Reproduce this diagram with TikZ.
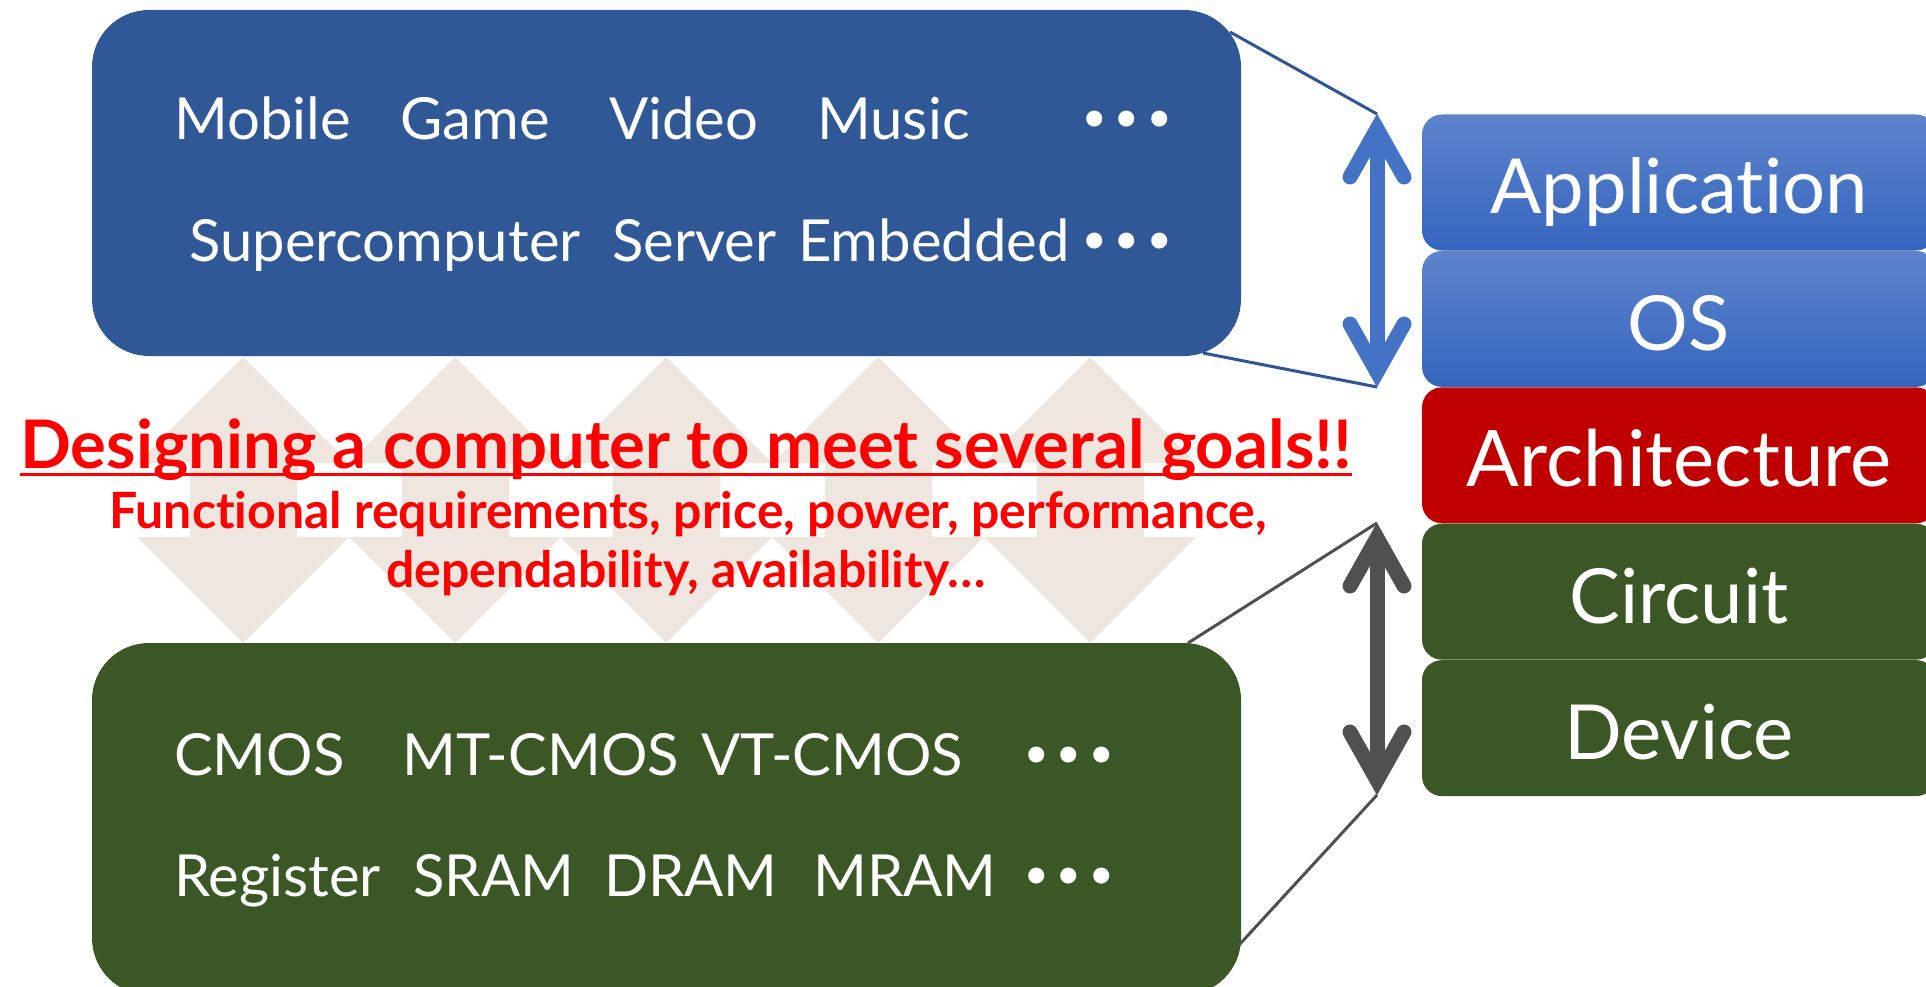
\documentclass[tikz,border=0pt]{standalone}
\usepackage{fontspec}
\setmainfont{Lato}[Ligatures=NoCommon]
\newfontfamily\dotfont{DejaVu Sans}
\usepackage{tikz}
\usetikzlibrary{positioning, calc}
\definecolor{appblue}{RGB}{48,88,150}
\definecolor{techgreen}{RGB}{59,87,37}
\definecolor{stacktop}{RGB}{94,132,204}
\definecolor{stackbot}{RGB}{52,101,190}
\definecolor{archred}{RGB}{192,0,0}
\definecolor{beige}{RGB}{238,230,223}
\definecolor{linkblue}{RGB}{47,85,151}
\definecolor{linkgray}{RGB}{80,80,80}
\definecolor{arrblue}{RGB}{68,114,196}
\definecolor{goalred}{RGB}{255,0,0}
\tikzstyle{bigbox} = [rounded corners=57pt, minimum width=1149pt, inner sep=0pt]
\tikzstyle{layer} = [rounded corners=20pt, minimum width=514pt, minimum height=136pt, inner sep=0pt, text=white, font=\fontsize{76}{80}\selectfont, text height=63pt, text depth=0pt]
\tikzstyle{word} = [text=white, inner sep=0pt, anchor=base west, font=\fontsize{58}{60}\selectfont]
\tikzstyle{dots} = [text=white, inner sep=0pt, anchor=base west, font=\dotfont\fontsize{55}{60}\selectfont]
\tikzstyle{goal} = [text=goalred, inner sep=0pt, anchor=base]
\tikzstyle{link} = [line width=3pt]
\tikzstyle{chevron} = [line width=15pt, line join=miter, line cap=round]

\begin{document}
\begin{tikzpicture}[x=1pt, y=-1pt]
\useasboundingbox (0,0) rectangle (1926,987);
\foreach \c in {243,455,666,878,1090}
  \fill[beige] (\c,357) -- (\c+106,463) -- (\c+54,463) -- (\c+54,537) -- (\c+106,537) -- (\c,643)
    -- (\c-106,537) -- (\c-53,537) -- (\c-53,463) -- (\c-106,463) -- cycle;
\node[bigbox, fill=appblue, minimum height=346pt] (apps) at (666.5,183) {};
\node[bigbox, fill=techgreen, minimum height=352pt] (tech) at (666.5,819) {};

\node[layer, top color=stacktop, bottom color=stackbot] (app) at (1679,182.5) {Application};
\node[layer, top color=stacktop, bottom color=stackbot, below=0pt of app] (os) {OS};
\node[layer, fill=archred, below=0pt of os, font=\fontsize{78}{80}\selectfont] (arch) {Architecture};
\node[layer, fill=techgreen, below=0pt of arch] (circ) {Circuit};
\node[layer, fill=techgreen, below=0pt of circ] (dev) {Device};

\foreach \w/\x [count=\i] in {Mobile/174, Game/400, Video/609, Music/817}
  \node[word] (use\i) at (\x,140) {\w};
\node[dots] (usedots) at (1078,140) {•••};
\foreach \w/\x [count=\i] in {Supercomputer/189, Server/612, Embedded/798}
  \node[word] (sys\i) at (\x,261) {\w};
\node[dots] (sysdots) at (1078,261) {•••};
\foreach \w/\x [count=\i] in {CMOS/174, MT-CMOS/402, VT-CMOS/701}
  \node[word] (trans\i) at (\x,775) {\w};
\node[dots] (transdots) at (1020,775) {•••};
\foreach \w/\x [count=\i] in {Register/174, SRAM/413, DRAM/604, MRAM/813}
  \node[word] (mem\i) at (\x,896) {\w};
\node[dots] (memdots) at (1020,896) {•••};

\node[goal, font=\bfseries\fontsize{67}{67}\selectfont] (goal) at (686,468) {Designing a computer to meet several goals!!};
\draw[goalred, line width=3pt] ($(goal.base west)+(0,6)$) -- ($(goal.base east)+(0,6)$);
\node[goal, font=\bfseries\fontsize{50}{50}\selectfont] (req1) at (688,528) {Functional requirements, price, power, performance,};
\node[goal, font=\bfseries\fontsize{50}{50}\selectfont] (req2) at (686,587) {dependability, availability…};

\coordinate (blueup) at (1377,114);
\coordinate (bluedn) at (1377,387);
\coordinate (grayup) at (1377,523);
\coordinate (graydn) at (1377,795);
\coordinate (appsne) at (1230,32);
\coordinate (appsse) at (1203,353);
\coordinate (techne) at (1188,643);
\coordinate (techse) at (1239,945);
\draw[link, linkblue] (appsne) -- (blueup);
\draw[link, linkblue] (appsse) -- (bluedn);
\draw[link, linkgray] (techne) -- (grayup);
\draw[link, linkgray] (techse) -- (graydn);

\draw[arrblue, line width=15pt] ($(blueup)+(0,15)$) -- ($(bluedn)+(0,-15)$);
\draw[chevron, arrblue] (blueup) ++(-27,63) -- ++(27,-48) -- ++(27,48);
\draw[chevron, arrblue] (bluedn) ++(-27,-63) -- ++(27,48) -- ++(27,-48);
\draw[linkgray, line width=15pt] ($(grayup)+(0,15)$) -- ($(graydn)+(0,-15)$);
\draw[chevron, linkgray] (grayup) ++(-27,63) -- ++(27,-48) -- ++(27,48);
\draw[chevron, linkgray] (graydn) ++(-27,-63) -- ++(27,48) -- ++(27,-48);
\end{tikzpicture}
\end{document}
